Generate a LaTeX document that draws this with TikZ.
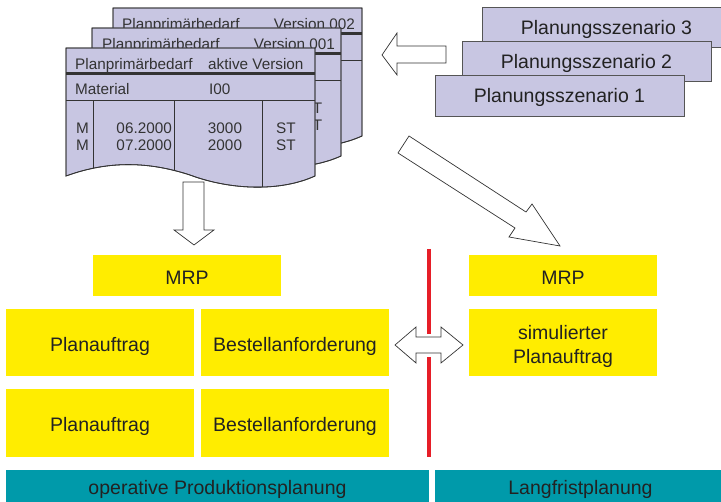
\documentclass[tikz,border=0pt]{standalone}
\usepackage{fontspec}
\setmainfont{Liberation Sans}
\definecolor{lav}{RGB}{200,198,226}
\definecolor{ycol}{RGB}{255,237,0}
\definecolor{tealc}{RGB}{0,154,170}
\definecolor{redl}{RGB}{230,30,40}
\definecolor{txt}{RGB}{34,34,34}
\definecolor{lnc}{RGB}{51,51,51}
\definecolor{scb}{RGB}{85,85,85}
\begin{document}
\begin{tikzpicture}[x=1pt,y=-1pt,
  bigfont/.style={font=\fontsize{19.5}{24.7}\selectfont},
  ybox/.style={bigfont, fill=ycol, draw=none, inner sep=0pt, minimum width=188pt, text=txt, text height=18pt, text depth=0pt},
  tbar/.style={bigfont, fill=tealc, draw=none, inner sep=0pt, minimum height=32pt, text=txt, text height=18pt, text depth=0pt},
  scen/.style={bigfont, fill=lav, draw=scb, line width=0.8pt, inner sep=0pt, minimum width=249pt, text=txt, text height=15pt, text depth=0pt},
  barrow/.style={fill=white, draw=lnc, line width=0.7pt, line join=miter},
  docfill/.style={fill=lav, draw=lnc, line width=0.8pt},
  docpath/.style={insert path={(66,48) -- (315,48) -- (315,176) .. controls (280,192) and (230,190) .. (190,175) .. controls (150,162) and (110,160) .. (66,176) -- cycle}},
  thickrule/.style={draw=lnc, line width=2.6pt},
  thinrule/.style={draw=lnc, line width=0.8pt},
  dtext/.style={font=\fontsize{15.3}{18}\selectfont, text=lnc, inner sep=0pt},
  sepline/.style={draw=redl, line width=4pt}
]
\useasboundingbox (0,0) rectangle (721,502);

% ---------- scenario boxes ----------
\node[scen, minimum height=40pt] (sz3) at (606.5,27) {Planungsszenario 3};
\node[scen, minimum height=40pt] (sz2) at (586.5,61) {Planungsszenario 2};
\node[scen, minimum height=41pt] (sz1) at (559.5,95.5) {Planungsszenario 1};

% ---------- document stack ----------
% Version 002
\begin{scope}[shift={(47,-40)}]
  \path[docfill, docpath];
  \begin{scope}
    \clip[docpath];
    \draw[thickrule] (66,73.5) -- (315,73.5);
    \draw[thinrule] (66,100.5) -- (315,100.5);
  \end{scope}
  \path[draw=lnc, line width=0.8pt, docpath];
  \node[dtext, anchor=base west] (d3a) at (75,70) {Planprimärbedarf};
  \node[dtext, anchor=base east] (d3b) at (308,70) {Version 002};
\end{scope}
% Version 001
\begin{scope}[shift={(26,-20)}]
  \path[docfill, docpath];
  \begin{scope}
    \clip[docpath];
    \draw[thickrule] (66,73.5) -- (315,73.5);
    \draw[thinrule] (66,100.5) -- (315,100.5);
  \end{scope}
  \path[draw=lnc, line width=0.8pt, docpath];
  \node[dtext, anchor=base west] (d2a) at (76,70) {Planprimärbedarf};
  \node[dtext, anchor=base east] (d2b) at (309,70) {Version 001};
  \node[dtext, anchor=base] (d2c) at (286.5,134) {ST};
  \node[dtext, anchor=base] (d2d) at (286.5,151) {ST};
\end{scope}
% aktive Version (front)
\path[docfill, docpath];
\begin{scope}
  \clip[docpath];
  \draw[thickrule] (66,73.5) -- (315,73.5);
  \draw[thinrule] (66,100.5) -- (315,100.5);
  \draw[thinrule] (93,100.5) -- (93,200);
  \draw[thinrule] (174,100.5) -- (174,200);
  \draw[thinrule] (262,100.5) -- (262,200);
\end{scope}
\path[draw=lnc, line width=0.8pt, docpath];
\node[dtext, anchor=base west] (f1) at (75,70) {Planprimärbedarf};
\node[dtext, anchor=base west] (f2) at (208,70) {aktive Version};
\node[dtext, anchor=base west] (f3) at (75,95) {Material};
\node[dtext, anchor=base west] (f4) at (209,95) {I00};
\node[dtext, anchor=base west] (f5) at (76,134) {M};
\node[dtext, anchor=base west] (f6) at (76,151) {M};
\node[dtext, anchor=base east] (f7) at (172,134) {06.2000};
\node[dtext, anchor=base east] (f8) at (172,151) {07.2000};
\node[dtext, anchor=base] (f9) at (225,134) {3000};
\node[dtext, anchor=base] (f10) at (225,151) {2000};
\node[dtext, anchor=base] (f11) at (286,134) {ST};
\node[dtext, anchor=base] (f12) at (286,151) {ST};

% ---------- block arrows ----------
\draw[barrow] (382,55) -- (397,33) -- (397,46) -- (446,46) -- (446,63) -- (397,63) -- (397,75) -- cycle;
\draw[barrow] (183,182) -- (204,182) -- (204,230) -- (214,230) -- (194,245) -- (174,230) -- (183,230) -- cycle;
\draw[barrow] (409,136) -- (526,212) -- (532,204) -- (560,246) -- (509,237) -- (515,228) -- (398,153) -- cycle;

% ---------- yellow boxes ----------
\node[ybox, minimum height=41pt] (mrpL) at (187,275.5) {MRP};
\node[ybox, minimum height=67pt] (pa1) at (100,342.5) {Planauftrag};
\node[ybox, minimum height=67pt] (ba1) at (295,342.5) {Bestellanforderung};
\node[ybox, minimum height=68pt] (pa2) at (100,423) {Planauftrag};
\node[ybox, minimum height=68pt] (ba2) at (295,423) {Bestellanforderung};
\node[ybox, minimum height=41pt] (mrpR) at (563,275.5) {MRP};
\node[ybox, minimum height=67pt, align=center, text height=43pt, text depth=0pt] (sim) at (563,342.5) {simulierter\\Planauftrag};

% ---------- separator and double arrow ----------
\draw[sepline] (429,249) -- (429,334);
\draw[sepline] (429,357) -- (429,457);
\draw[barrow] (395,345) -- (416,327) -- (416,337) -- (441,337) -- (441,327) -- (463,345) -- (441,363) -- (441,353) -- (416,353) -- (416,363) -- cycle;

% ---------- bottom bars ----------
\node[tbar, minimum width=423pt] (opp) at (217.5,486) {operative Produktionsplanung};
\node[tbar, minimum width=291pt] (lfp) at (580.5,486) {Langfristplanung};
\end{tikzpicture}
\end{document}
